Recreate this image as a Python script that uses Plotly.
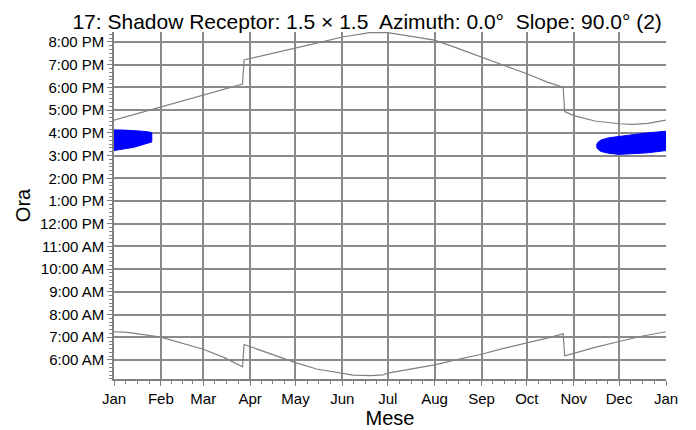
# Shadow receptor calendar: sunrise / sunset and shadow periods

import calendar
from datetime import datetime, timedelta

import plotly.graph_objects as go

# sunset (upper line), hours of local clock time
sunset_dates = ["2023-01-01", "2023-01-15", "2023-02-01", "2023-02-15", "2023-03-01",
                "2023-03-15", "2023-03-27", "2023-03-28", "2023-04-01", "2023-04-15",
                "2023-05-01", "2023-05-15", "2023-06-01", "2023-06-10", "2023-06-19",
                "2023-07-01", "2023-07-08", "2023-07-15", "2023-08-01", "2023-08-15",
                "2023-09-01", "2023-09-15", "2023-10-01", "2023-10-15", "2023-10-25",
                "2023-10-26", "2023-11-01", "2023-11-15", "2023-12-01", "2023-12-10",
                "2023-12-20", "2024-01-01"]
sunset_hours = [16.56, 16.82, 17.15, 17.42, 17.65,
                17.92, 18.15, 19.21, 19.27, 19.50,
                19.73, 19.95, 20.22, 20.33, 20.41,
                20.41, 20.34, 20.25, 20.08, 19.75,
                19.34, 18.98, 18.60, 18.22, 18.01,
                16.94, 16.76, 16.52, 16.40, 16.37,
                16.42, 16.56]

# sunrise (lower line)
sunrise_dates = ["2023-01-01", "2023-01-10", "2023-02-01", "2023-02-15", "2023-03-01",
                 "2023-03-15", "2023-03-27", "2023-03-28", "2023-04-01", "2023-04-15",
                 "2023-05-01", "2023-05-15", "2023-06-01", "2023-06-08", "2023-06-20",
                 "2023-06-28", "2023-07-01", "2023-08-01", "2023-08-15", "2023-09-01",
                 "2023-09-15", "2023-10-01", "2023-10-15", "2023-10-25", "2023-10-26",
                 "2023-11-01", "2023-11-15", "2023-12-01", "2023-12-15", "2024-01-01"]
sunrise_hours = [7.24, 7.21, 7.00, 6.74, 6.47,
                 6.10, 5.70, 6.68, 6.59, 6.25,
                 5.88, 5.60, 5.41, 5.33, 5.31,
                 5.34, 5.42, 5.78, 6.00, 6.25,
                 6.50, 6.74, 6.97, 7.15, 6.18,
                 6.29, 6.55, 6.81, 7.03, 7.24]

# shadow periods (start / end of shadow on receptor)
shadow_jan_dates = ["2023-01-01", "2023-01-08", "2023-01-14", "2023-01-20", "2023-01-24", "2023-01-26"]
shadow_jan_start = [15.22, 15.28, 15.36, 15.48, 15.56, 15.60]
shadow_jan_end = [16.13, 16.12, 16.10, 16.07, 16.04, 16.00]

shadow_dec_dates = ["2023-11-16", "2023-11-17", "2023-11-19", "2023-11-24", "2023-12-01",
                    "2023-12-10", "2023-12-20", "2024-01-01"]
shadow_dec_start = [15.38, 15.28, 15.18, 15.10, 15.05, 15.07, 15.12, 15.22]
shadow_dec_end = [15.45, 15.58, 15.68, 15.78, 15.84, 15.93, 16.00, 16.07]

hour_ticks = list(range(6, 21))
hour_labels = ["6:00 AM", "7:00 AM", "8:00 AM", "9:00 AM", "10:00 AM", "11:00 AM",
               "12:00 PM", "1:00 PM", "2:00 PM", "3:00 PM", "4:00 PM", "5:00 PM",
               "6:00 PM", "7:00 PM", "8:00 PM"]

title = "17: Shadow Receptor: 1.5 \u00d7 1.5\u00a0 Azimuth: 0.0\u00b0\u00a0 Slope: 90.0\u00b0 (2)"

# quarter-month minor ticks on the date axis
minor_x = []
for m in range(1, 13):
    start = datetime(2023, m, 1)
    days = calendar.monthrange(2023, m)[1]
    for k in (1, 2, 3):
        minor_x.append(start + timedelta(days=days * k / 4))

fig = go.Figure()

for d, s, e in [(shadow_jan_dates, shadow_jan_start, shadow_jan_end),
                (shadow_dec_dates, shadow_dec_start, shadow_dec_end)]:
    fig.add_trace(go.Scatter(x=d + d[::-1], y=s + e[::-1],
        mode='lines', fill='toself',
        fillcolor='#0000ff',
        line=dict(color='#0000ff', width=1),
        showlegend=False))

fig.add_trace(go.Scatter(x=sunset_dates, y=sunset_hours,
    mode='lines', line=dict(color='#808080', width=1.2), showlegend=False))
fig.add_trace(go.Scatter(x=sunrise_dates, y=sunrise_hours,
    mode='lines', line=dict(color='#808080', width=1.2), showlegend=False))

fig.update_xaxes(type='date', automargin=False,
    range=['2023-01-01', '2024-01-01'],
    tick0='2023-01-01', dtick='M1', tickformat='%b',
    showgrid=True, gridcolor='#8a8a8a', gridwidth=1.7,
    showline=True, linecolor='#808080', linewidth=1.5,
    ticks='outside', ticklen=5, tickcolor='#808080',
    minor=dict(tickmode='array', tickvals=minor_x, ticks='outside',
               ticklen=3, tickcolor='#808080', showgrid=False),
    tickfont=dict(size=15, color='black'),
    title=dict(text='Mese', font=dict(size=20, color='black'), standoff=2),
    zeroline=False)

fig.update_yaxes(range=[5.16, 20.44], automargin=False,
    tickmode='array', tickvals=hour_ticks, ticktext=hour_labels,
    showgrid=True, gridcolor='#8a8a8a', gridwidth=1.7,
    showline=True, linecolor='#808080', linewidth=1.5,
    ticks='outside', ticklen=5, tickcolor='#808080',
    minor=dict(tick0=0, dtick=1 / 6, ticks='outside', ticklen=3,
               tickcolor='#808080', showgrid=False),
    tickfont=dict(size=15, color='black'),
    title=dict(text='Ora', font=dict(size=20, color='black'), standoff=4),
    zeroline=False)

# page adds an 8px body margin, so the figure is 8px smaller than the window
fig.update_layout(width=688, height=422,
    margin=dict(l=106, r=30, t=24, b=51),
    paper_bgcolor='white', plot_bgcolor='white',
    font=dict(family='Liberation Sans, Arial, sans-serif', color='black'),
    title=dict(text=title, x=0.522, xanchor='center', y=0.985, yanchor='top',
               pad=dict(t=0), font=dict(size=21, color='black')),
    showlegend=False)

fig.write_html("out.html")
